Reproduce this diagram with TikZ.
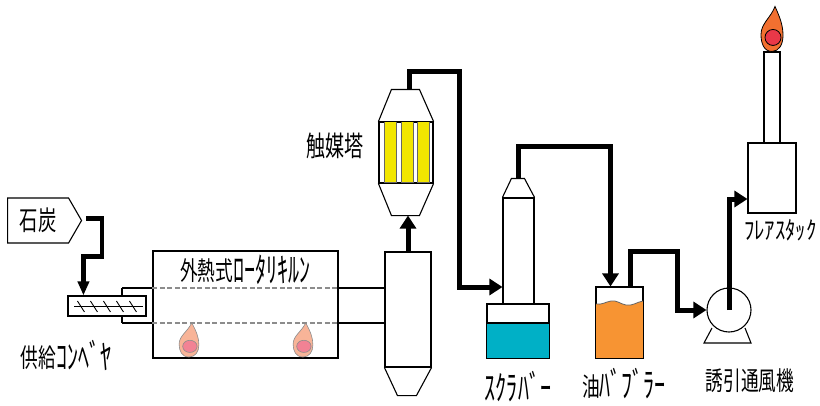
\documentclass[tikz,border=0pt]{standalone}
\usepackage{fontspec}
\usepackage{tikz}
\usetikzlibrary{arrows.meta, calc, shapes.symbols}
\newfontfamily\jpfont[FakeStretch=0.68]{Noto Sans CJK JP}
\newfontfamily\jpkanafont[FakeStretch=0.85]{Noto Sans CJK JP}
% half-width katakana, set taller so they stand as high as the kanji
\newcommand{\hankaku}[1]{\raisebox{-0.06em}{\scalebox{1}[1.32]{\jpkanafont #1}}}
\definecolor{catyellow}{RGB}{242,230,0}
\definecolor{scrubwater}{RGB}{0,176,198}
\definecolor{bubbleroil}{RGB}{247,148,51}
\definecolor{burnerouter}{RGB}{248,180,152}
\definecolor{burnerinner}{RGB}{242,130,148}
\definecolor{flareouter}{RGB}{242,112,48}
\definecolor{flareinner}{RGB}{234,56,72}

\begin{document}
\begin{tikzpicture}[
        x=1pt, y=-1pt,
        vessel/.style={draw=black, fill=white, line width=1.1pt, inner sep=0pt},
        shell/.style={draw=black, line width=1.1pt},
        tag/.style={font=\jpfont\fontsize{26}{26}\selectfont, inner sep=0pt},
        pipe/.style={line width=5pt, line join=miter},
        pipearrow/.style={pipe, -{Triangle[length=13pt, width=16pt]}},
        retort/.style={black!45, dash pattern=on 5pt off 2.5pt, line width=1.3pt},
        flame outer/.style={fill=burnerouter, draw=black!45, line width=0.6pt},
        flame inner/.style={fill=burnerinner, draw=black!45, line width=0.6pt},
        flare/.style={flame outer/.style={fill=flareouter, draw=black, line width=0.8pt},
                      flame inner/.style={fill=flareinner, draw=black, line width=0.8pt}},
        flame/.pic={
            \filldraw[flame outer] (0,0) .. controls (-8,0) and (-11,-8) .. (-11,-17)
                .. controls (-11,-28) and (-1,-34) .. (3,-45)
                .. controls (8,-34) and (11,-26) .. (11,-16)
                .. controls (11,-7) and (7,0) .. (0,0);
            \filldraw[flame inner] (1,-14) circle (8);
        }
    ]
    \useasboundingbox[fill=white] (0,0) rectangle (820,405);

    % Coal hopper sign and feed line
    \node (coal) [signal, signal to=east, signal pointer angle=120, draw, line width=1.1pt,
        minimum width=74pt, minimum height=45pt, anchor=west, font=\jpfont\fontsize{27}{27}\selectfont]
        at (7,220.5) {石炭};

    % Dust chamber after the kiln
    \node (dust) [vessel, minimum width=46pt, minimum height=115pt] at (408,309.5) {};
    \draw [shell] (dust.south west) -- ++(13,28) -- ++(19,0) -- (dust.south east);

    % Retort tube running through the kiln
    \coordinate (feedtop) at (122,288);
    \coordinate (feedbot) at (122,323);
    \draw [shell] (feedtop) -- (feedtop -| dust.west);
    \draw [shell] (feedbot) -- (feedbot -| dust.west);
    \draw [shell] (feedtop) -- (feedbot);

    % Rotary kiln
    \node (kiln) [vessel, minimum width=185pt, minimum height=107pt] at (245.5,304.5) {};
    \draw [retort] (feedtop -| kiln.west) -- (feedtop -| kiln.east);
    \draw [retort] (feedbot -| kiln.west) -- (feedbot -| kiln.east);
    \node (kilnlabel) [tag] at ($(kiln.north)+(0,19)$) {外熱式\hankaku{ﾛｰﾀﾘｷﾙﾝ}};
    \pic [xscale=0.9, yscale=0.76] at (189,357) {flame};
    \pic [xscale=0.9, yscale=0.76] at (303,357) {flame};

    % Screw conveyor
    \node (conv) [vessel, minimum width=78pt, minimum height=20pt] at (107,306) {};
    \draw [line width=0.9pt] ($(conv.west)+(7,0)$) -- ($(conv.east)+(-4,0)$);
    \foreach \i in {0,...,4}
        \draw [line width=0.9pt] ($(conv.west)+(10+13*\i,-5)$) -- ++(7,11);
    \node (convlabel) [tag] at (66,355) {供給\hankaku{ｺﾝﾍﾞﾔ}};

    \draw [pipe, line width=4.5pt, -{Triangle[length=14pt, width=11pt]}]
        ($(coal.east)+(4,-2)$) -| ++(16,38) -| ($(conv.north west)+(16,0)$);

    % Catalyst tower
    \node (cat) [vessel, minimum width=54pt, minimum height=61pt] at (406,152.5) {};
    \foreach \dx in {6,23,39}
        \filldraw [fill=catyellow, draw=black!60, line width=0.5pt]
            ($(cat.north west)+(\dx,0)$) rectangle ++(12,61);
    \draw [shell] (cat.north west) rectangle (cat.south east);
    \draw [shell] (cat.north west) -- ++(13,-32) -- ++(28,0) -- (cat.north east);
    \draw [shell] (cat.south west) -- ++(13,32) -- ++(28,0) -- (cat.south east);
    \coordinate (cattop) at ($(cat.north)+(3,-32)$);
    \coordinate (catbot) at ($(cat.south)+(0,32)$);
    \node (catlabel) [tag, font=\jpfont\fontsize{28}{28}\selectfont] at (335,146) {触媒塔};

    \draw [pipearrow] (dust.north) -- (dust.north |- catbot);

    % Scrubber column and tank
    \node (scol) [vessel, minimum width=31pt, minimum height=106pt] at (518.5,251) {};
    \draw [shell] (scol.north west) -- ++(9,-19) -- ++(13,0) -- (scol.north east);
    \coordinate (scrubtop) at ($(scol.north)+(0,-19)$);
    \node (stank) [vessel, minimum width=62pt, minimum height=54pt] at (518,331) {};
    \fill [scrubwater] (stank.south west) rectangle ($(stank.east)+(0,-8)$);
    \draw [shell] (stank.north west) rectangle (stank.south east);
    \draw [shell] ($(stank.west)+(0,-8)$) -- ($(stank.east)+(0,-8)$);
    \node (scrublabel) [tag] at (518,387) {\hankaku{ｽｸﾗﾊﾞｰ}};

    \draw [pipearrow] (cattop) |- ++(50,-18) |- ($(scol.west)+(0,36)$);

    % Oil bubbler
    \node (bub) [vessel, minimum width=47pt, minimum height=71pt] at (619.5,322.5) {};
    \fill [bubbleroil] (bub.south west) -- (596,304) to[out=-10, in=190] (611,301)
        to[out=10, in=170] (626,305) to[out=-10, in=190] (643,301) -- (bub.south east) -- cycle;
    \draw [black!60, line width=0.8pt] (596,304) to[out=-10, in=190] (611,301)
        to[out=10, in=170] (626,305) to[out=-10, in=190] (643,301);
    \draw [shell] (bub.north west) rectangle (bub.south east);
    \node (bublabel) [tag] at (624,384) {油\hankaku{ﾊﾞﾌﾞﾗｰ}};

    \draw [pipearrow] (scrubtop) |- ($(bub.north)+(-9,-140)$) -- ($(bub.north)+(-9,0)$);

    % Induced draft fan
    \coordinate (fanhub) at (729,310);
    \draw [shell, fill=white] ($(fanhub)+(-17,18)$) -- ($(fanhub)+(-25,33)$)
        -- ($(fanhub)+(22,33)$) -- ($(fanhub)+(16,18)$);
    \node (fan) [vessel, circle, minimum size=44pt] at (fanhub) {};
    \node (fanlabel) [tag] at (750,381) {誘引通風機};

    \draw [pipearrow] ($(bub.north)+(11,0)$) |- ++(47,-35) |- (fan.west);

    % Flare stack
    \node (stack) [vessel, minimum width=48pt, minimum height=70pt] at (772,178) {};
    \node (chim) [vessel, minimum width=16pt, minimum height=91pt] at (772,97.5) {};
    \pic [flare] at (chim.north) {flame};
    \node (flarelabel) [tag, font=\jpfont\fontsize{19}{19}\selectfont, anchor=west]
        at (744,230) {\scalebox{1.28}[1]{\hankaku{ﾌﾚｱｽﾀｯｸ}}};

    \draw [pipearrow] (fan.center) |- ($(stack.west)+(0,21)$);

\end{tikzpicture}
\end{document}
